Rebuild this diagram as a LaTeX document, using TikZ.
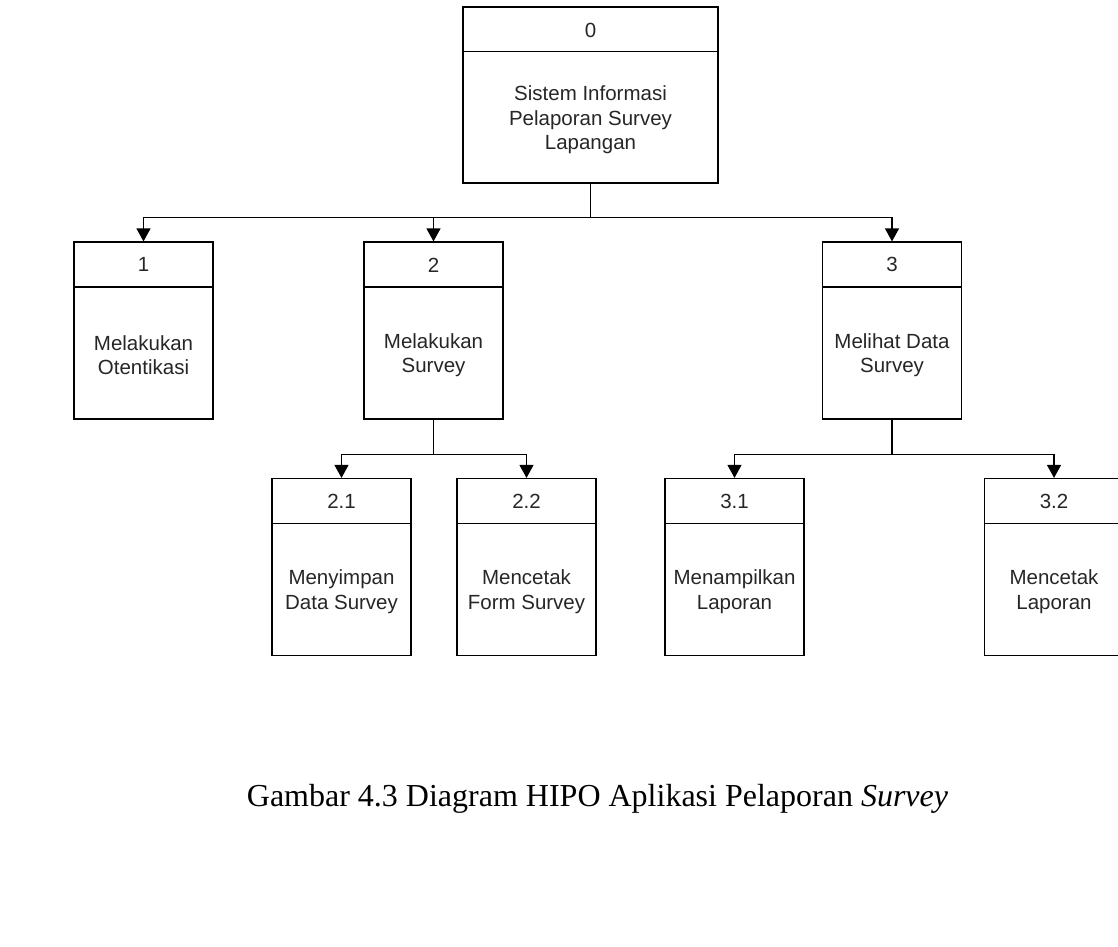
\documentclass[tikz,border=0pt]{standalone}
\usepackage{fontspec}
\setmainfont{Liberation Serif}
\newfontfamily\boxfont{Liberation Sans}
\usetikzlibrary{positioning,calc,arrows.meta}

\begin{document}
\begin{tikzpicture}[x=1pt, y=1pt,
    box/.style={draw, line width=1.2pt, minimum width=139pt, minimum height=177pt, inner sep=0pt},
    num/.style={font=\boxfont\fontsize{20.5}{24.5}\selectfont, text=black!85},
    desc/.style={align=center, font=\boxfont\fontsize{20.5}{24.5}\selectfont, text=black!85},
    divider/.style={line width=1.2pt},
    link/.style={line width=1.2pt, -{Triangle[width=14pt,length=13pt]}}]
    \useasboundingbox (0,0) rectangle (1118,-946);

    % Level 0
    \node[box, minimum width=255pt, minimum height=176pt] (p0) at (590.5,-95) {};
    \node[num] (n0) at ($(p0.north)+(0,-24)$) {0};
    \draw[divider] ($(p0.north west)+(0,-45)$) -- ($(p0.north east)+(0,-45)$);
    \node[desc] (d0) at ($(p0.south)+(0,63.5)$) {Sistem Informasi\\Pelaporan Survey\\Lapangan};

    % Level 1 and 2
    \foreach \id/\x/\y/\n/\t in {p1/143.5/-330.5/1/{Melakukan\\Otentikasi},
                                 p2/433.5/-330.5/2/{Melakukan\\Survey},
                                 p3/892/-330.5/3/{Melihat Data\\Survey},
                                 p21/341.5/-567/2.1/{Menyimpan\\Data Survey},
                                 p22/526.5/-567/2.2/{Mencetak\\Form Survey},
                                 p31/734.5/-567/3.1/{Menampilkan\\Laporan},
                                 p32/1054/-567/3.2/{Mencetak\\Laporan}} {
        \node[box] (\id) at (\x,\y) {};
        \node[num] (\id n) at ($(\id.north)+(0,-23.5)$) {\n};
        \draw[divider] ($(\id.north west)+(0,-45.5)$) -- ($(\id.north east)+(0,-45.5)$);
        \node[desc] (\id d) at ($(\id.south)+(0,64.5)$) {\t};
    }

    % Connectors
    \draw[link] (p0.south) -- ++(0,-34) -| (p1.north);
    \draw[link] (p0.south) -- ++(0,-34) -| (p2.north);
    \draw[link] (p0.south) -- ++(0,-34) -| (p3.north);
    \draw[link] (p2.south) -- ++(0,-35) -| (p21.north);
    \draw[link] (p2.south) -- ++(0,-35) -| (p22.north);
    \draw[link] (p3.south) -- ++(0,-35) -| (p31.north);
    \draw[link] (p3.south) -- ++(0,-35) -| (p32.north);

    % Caption
    \node[anchor=base, font=\fontsize{32}{38}\selectfont] (caption) at (597.5,-806)
        {Gambar 4.3 Diagram HIPO Aplikasi Pelaporan \textit{Survey}};
\end{tikzpicture}
\end{document}
